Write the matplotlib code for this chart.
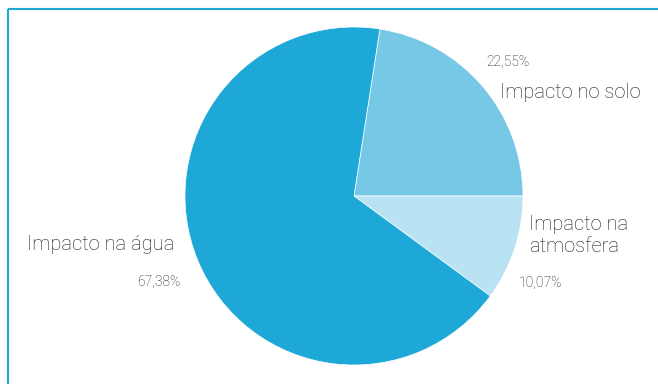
import matplotlib.pyplot as plt

labels = ['Impacto no solo', 'Impacto na\natmosfera', 'Impacto na água']
values = [22.55, 10.07, 67.38]
pct_labels = ['22,55%', '10,07%', '67,38%']
colors = ['#76C8E6', '#B9E3F2', '#1DA8D8']

plt.rcParams['font.family'] = ['Roboto', 'DejaVu Sans']

W, H = 658, 384
fig = plt.figure(figsize=(W / 100, H / 100), dpi=100)
ax = fig.add_axes([0, 0, 1, 1])

# pie, solo wedge ends exactly at 3 o'clock
ax.pie(values, colors=colors, startangle=values[0] * 3.6, counterclock=False,
       center=(354, H - 196), radius=169, frame=True,
       wedgeprops=dict(linewidth=0.5, edgecolor='white'))
ax.set_xlim(0, W)
ax.set_ylim(0, H)
ax.set_aspect('equal')
ax.axis('off')

# frame lines (top and left)
ax.plot([8, 8], [0, H - 9], color='#1DA8D8', lw=1.5, solid_capstyle='butt')
ax.plot([8, W], [H - 9, H - 9], color='#1DA8D8', lw=1.5, solid_capstyle='butt')

txt = '#1a1a1a'
big = dict(fontsize=14.5, fontweight='light', color=txt)
small = dict(fontsize=10, fontweight='light', color=txt)

ax.text(500, H - 93, labels[0], ha='left', va='center', **big)
ax.text(486, H - 62, pct_labels[0], ha='left', va='center', **small)

ax.text(529, H - 235, labels[1], ha='left', va='center', linespacing=1.2, **big)
ax.text(519, H - 283, pct_labels[1], ha='left', va='center', **small)

ax.text(27, H - 245, labels[2], ha='left', va='center', **big)
ax.text(180, H - 282, pct_labels[2], ha='right', va='center', **small)

fig.savefig('out.png', dpi=100)
